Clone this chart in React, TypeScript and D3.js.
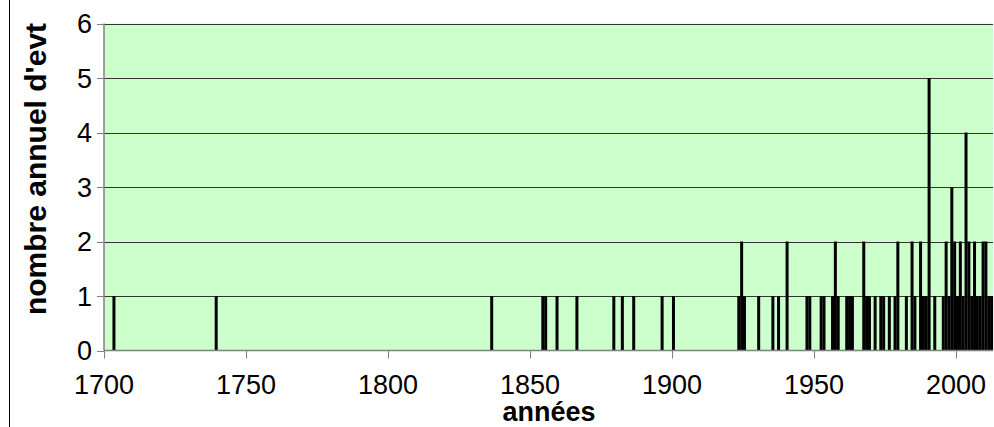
import React from "react";
import * as d3 from "d3";

const years: number[] = [
  1703, 1739,
  1836, 1854, 1855, 1859, 1866, 1879, 1882, 1886, 1896, 1900,
  1923, 1924, 1925, 1930, 1935, 1937, 1940, 1947, 1948,
  1952, 1953, 1956, 1957, 1958, 1961, 1962, 1963, 1967, 1968, 1969,
  1971, 1973, 1974, 1976, 1978, 1979, 1982, 1984, 1985, 1987, 1988, 1989,
  1990, 1992, 1995, 1996, 1997, 1998, 1999, 2000, 2001, 2002, 2003, 2004,
  2005, 2006, 2007, 2008, 2009, 2010, 2011, 2012,
];
const counts: number[] = [
  1, 1,
  1, 1, 1, 1, 1, 1, 1, 1, 1, 1,
  1, 2, 1, 1, 1, 1, 2, 1, 1,
  1, 1, 1, 2, 1, 1, 1, 1, 2, 1, 1,
  1, 1, 1, 1, 1, 2, 1, 2, 1, 2, 1, 1,
  5, 1, 1, 2, 1, 3, 2, 1, 2, 1, 4, 2,
  1, 2, 1, 1, 2, 2, 1, 1,
];
const xTicks: number[] = [1700, 1750, 1800, 1850, 1900, 1950, 2000];
const yTicks: number[] = [0, 1, 2, 3, 4, 5, 6];
const xTitle = "années";
const yTitle = "nombre annuel d'evt";

export default function App() {
  const W = 994, H = 427;
  const left = 104, right = 993, top = 23.5, bottom = 350.5;
  const x = d3.scaleLinear().domain([1700, 2013]).range([left, right]);
  const y = d3.scaleLinear().domain([0, 6]).range([bottom, top]);
  const barW = 3;
  const font = "Arial, 'Liberation Sans', sans-serif";
  return (
    <svg width={W} height={H} style={{ position: "absolute", left: 0, top: 0 }}>
      <rect x={0} y={0} width={W} height={H} fill="#ffffff" />
      <line x1={9.5} x2={9.5} y1={0} y2={H} stroke="#000" strokeWidth={1} />
      <rect x={left} y={top} width={right - left} height={bottom - top} fill="#CCFFCC" />
      {yTicks.filter((t) => t > 0).map((t) => (
        <line key={"g" + t} x1={left} x2={right} y1={Math.round(y(t)) + 0.5} y2={Math.round(y(t)) + 0.5} stroke="#333" strokeWidth={1} />
      ))}
      {years.map((yr, i) => (
        <rect key={yr} x={x(yr + 0.5) - barW / 2} y={y(counts[i])} width={barW} height={bottom - y(counts[i])} fill="#000" />
      ))}
      <line x1={left} x2={left} y1={top} y2={bottom} stroke="#808080" strokeWidth={1.5} />
      <line x1={left} x2={right} y1={bottom} y2={bottom} stroke="#808080" strokeWidth={1.5} />
      {yTicks.map((t) => (
        <g key={"y" + t}>
          <line x1={left - 7} x2={left} y1={Math.round(y(t)) + 0.5} y2={Math.round(y(t)) + 0.5} stroke="#808080" strokeWidth={1} />
          <text x={left - 12} y={y(t)} dy="0.36em" textAnchor="end" fontFamily={font} fontSize={27} fill="#000">{t}</text>
        </g>
      ))}
      {xTicks.map((t) => (
        <g key={"x" + t}>
          <line x1={Math.round(x(t)) + 0.5} x2={Math.round(x(t)) + 0.5} y1={bottom} y2={bottom + 8} stroke="#808080" strokeWidth={1} />
          <text x={x(t)} y={394} textAnchor="middle" fontFamily={font} fontSize={27} fill="#000">{t}</text>
        </g>
      ))}
      <text x={549} y={421} textAnchor="middle" fontFamily={font} fontSize={27} fontWeight="bold" fill="#000">{xTitle}</text>
      <text transform={`translate(46, 169) rotate(-90)`} textAnchor="middle" fontFamily={font} fontSize={30} fontWeight="bold" fill="#000">{yTitle}</text>
    </svg>
  );
}
